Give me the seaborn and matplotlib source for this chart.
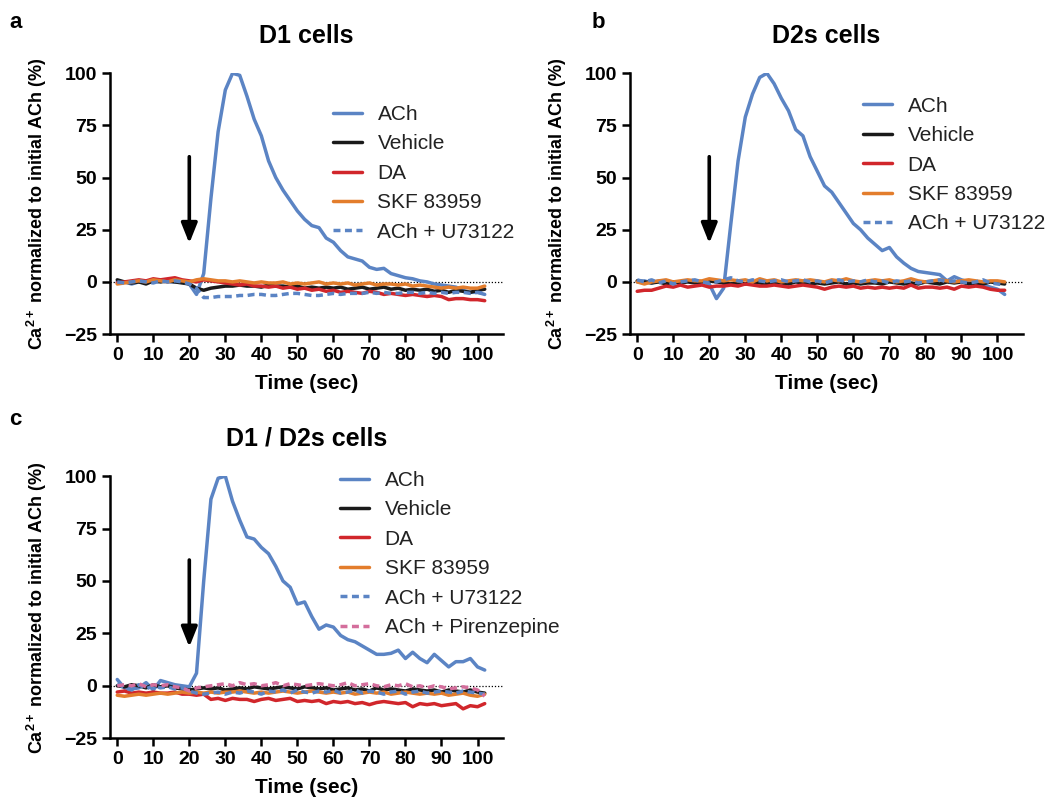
import numpy as np
import pandas as pd
import matplotlib
matplotlib.use("Agg")
import matplotlib.pyplot as plt
import seaborn as sns

# time axis (sec), one sample every 2 sec
time = list(range(0, 104, 2))

# ---------------- panel a : D1 cells ----------------
a_ach = [0, 0, -1, 0, 0, 0, 1, 0, 0, 0, -1, -6, 4, 40, 72, 92, 100, 99, 89, 78,
         70, 58, 50, 44, 39, 34, 30, 27, 26, 21, 19, 15, 12, 11, 10, 7, 6, 6.5,
         4, 3, 2, 1.5, 0.5, 0, -1, -1.5, -2, -2.5, -4, -5, -5, -6]
a_vehicle = [1, 0, -0.5, 0, -1, 0.5, 0, 0.5, 0, -0.5, -1, -3, -4, -3, -2.5, -2,
             -2, -1.5, -2, -2, -2.5, -1.5, -2, -2, -2.5, -2, -3, -2.5, -3, -2.5,
             -3, -2.5, -3.5, -3, -2.5, -3.5, -3, -2.5, -3.5, -3, -4, -3.5, -4,
             -3.5, -4.5, -4, -5, -4, -4.5, -5, -4, -3.5]
a_da = [-0.5, 0, 0.5, 1, 0.5, 1.5, 1, 1.5, 2, 1, 0.5, 0, 1, 0.5, 0, -0.5, -1,
        -1.5, -1, -2, -2, -2.5, -2, -3, -2.5, -3.5, -3, -4, -3.5, -4.5, -4, -5,
        -4.5, -5, -5.5, -4.5, -5, -6, -5.5, -6, -6.5, -6, -6.5, -7, -6.5, -7,
        -8.5, -8, -8, -8.5, -8.5, -9]
a_skf = [-1, -0.5, 0, 0.5, 0, 1, 0.5, 0, 1, 0.5, 0, 1, 1.5, 1, 0.5, 0.5, 0, 0.5,
         0, -0.5, 0, -0.5, -0.5, 0, -1, -0.5, -1, -0.5, 0, -1, -0.5, -1, -0.5,
         -1.5, -1, -0.5, -1.5, -1, -1, -1.5, -1, -2, -1.5, -2, -2.5, -3, -2.5,
         -3, -2.5, -3, -3, -2]
a_u73122 = [0, -0.5, 0, 0.5, 0, -0.5, 0.5, 0, 0.5, 0, -1, -3, -7.5, -7.5, -7, -7,
            -7, -6.5, -6.5, -6, -6, -6.5, -6.5, -6, -5.5, -5.5, -6, -6.5, -6.5,
            -6, -5.5, -6, -5.5, -5.5, -5.5, -5, -5.5, -5, -5.5, -5.5, -5, -5,
            -5.5, -5, -5.5, -5, -5.5, -5, -5, -5.5, -5, -5.5]

# ---------------- panel b : D2s cells ----------------
b_ach = [0, 0.5, -0.5, 0.5, 0, -0.5, 0, 0.5, 0, 0, -1, -8, -3, 28, 58, 79, 90,
         98, 100, 95, 88, 82, 73, 70, 60, 53, 46, 43, 38, 33, 28, 25, 21, 18, 15,
         16.5, 12, 9, 6.5, 5, 4.5, 4, 3.5, 0.5, 2.5, 1, 0, -0.5, -1.5, -2.5,
         -3.5, -6]
b_vehicle = [0.5, 0, -0.5, 0, -1, 0, -0.5, 0, -0.5, 0, 0.5, 0, -0.5, -1, -0.5,
             -1, 0, -0.5, -1, -0.5, -0.5, -1, 0, -0.5, -1, -0.5, -1, -0.5, 0, -1,
             -0.5, -1, -0.5, -0.5, -1, 0, -0.5, -1, -0.5, -1, 0, -0.5, -1, 0,
             -0.5, 0, -1, -0.5, -1, 0, -0.5, -1]
b_da = [-4.5, -4, -4, -3, -2, -2.5, -1.5, -2.5, -2, -1.5, -2.5, -2, -2, -1.5, -2,
        -1, -1.5, -2, -2, -1.5, -2, -2.5, -2, -1.5, -2, -2.5, -3.5, -2.5, -2,
        -2.5, -2, -3, -2.5, -3, -2.5, -3, -2.5, -3, -1.5, -3, -2.5, -2.5, -3,
        -2.5, -3.5, -2, -2.5, -2, -2.5, -3.5, -4, -4]
b_skf = [0, -1, 0, 0.5, 1, 0, 0.5, 1, 0.5, 0.5, 1.5, 1, 0.5, 1, 0.5, 1, 0, 1.5,
         0.5, 1, 0, 0.5, 1, 0.5, 1, 0.5, 0, 1, 0.5, 1.5, 0.5, 0, 0.5, 1, 0.5, 1,
         0, 0.5, 1.5, 0.5, 0, 0.5, 1, 0.5, 0, 0.5, 1, 0.5, 0, 0.5, 0.5, 0]
b_u73122 = [1, 0, 1, -0.5, 0.5, -1, 0, 0.5, 1, 0, -0.5, 0, 1, 2, 0.5, 0, 1, 0.5,
            0, 0.5, 1, 0, 0.5, 1, 0, 0.5, -0.5, 0.5, 1, 0, 0.5, 0, 1, 0, 0.5,
            -0.5, 0.5, 0, 0.5, -0.5, 0, 0.5, 1, 0, 0.5, 0, -0.5, 0, 1, -0.5, -1,
            -1.5]

# ---------------- panel c : D1 / D2s cells ----------------
c_ach = [3, -1, -1.5, -1, 1.5, -2, 2.5, 1.5, 0.5, 0, -0.5, 6, 50, 89, 99, 100,
         88, 79, 71, 70, 66, 63, 57, 50, 47, 39, 40, 33, 27, 29, 28, 24, 22, 21,
         19, 17, 15, 15, 15.5, 17, 13, 16, 13, 11, 15, 12, 9, 11.5, 11.5, 13, 9,
         7.5]
c_vehicle = [0, -0.5, 0.5, 0, -1, 0.5, -0.5, 0, -1, -1.5, -2, -1.5, -1, -1.5, -1,
             -2, -1.5, -1, -1.5, -0.5, -1, -1.5, -1, -0.5, -1, -1.5, -0.5, -1,
             -1.5, -1, -2, -1.5, -1, -2, -1.5, -2.5, -1, -2, -1.5, -2, -2.5,
             -1.5, -2, -2.5, -2, -3, -2, -2.5, -3, -2, -3, -3.5]
c_da = [-3, -2.5, -3.5, -3, -3.5, -3, -3.5, -3.5, -3, -4, -4, -4.5, -4, -6.5, -6,
        -7, -6, -6.5, -6.5, -7.5, -6.5, -6, -7, -6.5, -6, -7.5, -7, -7.5, -7,
        -8.5, -7.5, -8, -7.5, -8.5, -8, -9, -8, -7.5, -8, -8.5, -8, -10, -8.5,
        -9, -8.5, -9.5, -9, -8.5, -11, -9.5, -10, -8.5]
c_skf = [-4.5, -5, -4.5, -4, -4.5, -4, -3.5, -4, -3.5, -3, -3.5, -3, -3.5, -3,
         -3.5, -3, -3, -2.5, -3, -3.5, -3, -3.5, -3, -2.5, -3, -3.5, -3, -2.5,
         -3, -3.5, -3, -3.5, -3, -4, -3.5, -3, -3.5, -3, -4, -3.5, -3, -3.5, -4,
         -3.5, -4, -3.5, -4.5, -4, -3.5, -4.5, -5, -4]
c_u73122 = [1, -1, -2, 0.5, -1.5, 0, -1, -0.5, -1.5, -1, -2.5, -3.5, -4, -3.5,
            -3, -4, -3, -3.5, -2.5, -3, -4, -2.5, -3, -2, -3.5, -2, -3, -3.5,
            -2.5, -3, -2, -3.5, -3, -2, -3.5, -2.5, -3, -4, -3, -2.5, -4, -3,
            -2.5, -3.5, -3, -2.5, -3, -3.5, -2.5, -3, -3.5, -4]
c_pirenzepine = [0, 0.5, 0, 1, -0.5, 0.5, 0, 0.5, -0.5, -1, -2.5, -1, -0.5, 0,
                 0.5, 1, 0, 1.5, 0.5, 1, 0, 0.5, 1.5, 0, 1, 0.5, 0, 0.5, 1, 0.5,
                 0, 0.5, 1.5, 0, 0.5, 1, 0, -0.5, 0.5, 0, 1, -0.5, 0, -1, 0,
                 -0.5, -1.5, -1, -0.5, -1, -2, -5]

# series styles: label -> (colour, dashed?)
styles = {
    "ACh": ("#5b84c4", False),
    "Vehicle": ("#1a1a1a", False),
    "DA": ("#d1262b", False),
    "SKF 83959": ("#e37d2c", False),
    "ACh + U73122": ("#5b84c4", True),
    "ACh + Pirenzepine": ("#d46e9c", True),
}

sns.set_style("ticks")
plt.rcParams["font.family"] = ["Liberation Sans", "DejaVu Sans"]
plt.rcParams["mathtext.fontset"] = "custom"
plt.rcParams["mathtext.rm"] = "Liberation Sans"
plt.rcParams["mathtext.bf"] = "Liberation Sans:bold"
plt.rcParams["text.color"] = "black"
plt.rcParams["axes.labelcolor"] = "black"

fig = plt.figure(figsize=(10.5, 8.05), dpi=100)
ax_a = fig.add_axes([0.1048, 0.585, 0.374, 0.324])
ax_b = fig.add_axes([0.600, 0.585, 0.374, 0.324])
ax_c = fig.add_axes([0.1048, 0.083, 0.374, 0.3255])


def draw_panel(ax, title, series, leg_xy):
    ax.axhline(0, color="black", lw=0.9, ls=(0, (1, 1.5)), zorder=1)
    for name, vals in series.items():
        col, dashed = styles[name]
        sns.lineplot(x=time, y=vals, ax=ax, color=col, lw=2.5, label=name,
                     linestyle=(0, (2, 1.3)) if dashed else "-", zorder=3)
    ax.annotate("", xy=(20, 18.5), xytext=(20, 60),
                arrowprops=dict(arrowstyle="-|>,head_length=0.55,head_width=0.22",
                                lw=2.6, color="black", shrinkA=0, shrinkB=0,
                                mutation_scale=22))
    ax.set_xlim(-2, 107)
    ax.set_ylim(-25, 100)
    ax.set_xticks(range(0, 101, 10))
    ax.set_yticks([-25, 0, 25, 50, 75, 100])
    sns.despine(ax=ax)
    for sp in ("left", "bottom"):
        ax.spines[sp].set_linewidth(1.8)
        ax.spines[sp].set_color("black")
    ax.tick_params(width=1.8, length=6, labelsize=14, colors="black")
    for lab in ax.get_xticklabels() + ax.get_yticklabels():
        lab.set_fontweight("bold")
    ax.set_xlabel("Time (sec)", fontsize=15, fontweight="bold", labelpad=7)
    ax.set_ylabel(r"Ca$^{\mathbf{2+}}$ normalized to initial ACh (%)",
                  fontsize=13, fontweight="bold", labelpad=11)
    ax.set_title(title, fontsize=18, fontweight="bold", pad=22, color="black")
    leg = ax.legend(loc="upper left", bbox_to_anchor=leg_xy, frameon=False,
                    fontsize=15, handlelength=1.4, handletextpad=0.75,
                    labelspacing=0.5, borderpad=0, borderaxespad=0)
    for t in leg.get_texts():
        t.set_color("#222222")


draw_panel(ax_a, "D1 cells",
           {"ACh": a_ach, "Vehicle": a_vehicle, "DA": a_da,
            "SKF 83959": a_skf, "ACh + U73122": a_u73122},
           (0.567, 0.878))
draw_panel(ax_b, "D2s cells",
           {"ACh": b_ach, "Vehicle": b_vehicle, "DA": b_da,
            "SKF 83959": b_skf, "ACh + U73122": b_u73122},
           (0.593, 0.91))
draw_panel(ax_c, "D1 / D2s cells",
           {"ACh": c_ach, "Vehicle": c_vehicle, "DA": c_da,
            "SKF 83959": c_skf, "ACh + U73122": c_u73122,
            "ACh + Pirenzepine": c_pirenzepine},
           (0.585, 1.02))

fig.text(0.009, 0.985, "a", fontsize=16, fontweight="bold", va="top")
fig.text(0.563, 0.985, "b", fontsize=16, fontweight="bold", va="top")
fig.text(0.009, 0.492, "c", fontsize=16, fontweight="bold", va="top")

fig.savefig("out.png", dpi=100)
